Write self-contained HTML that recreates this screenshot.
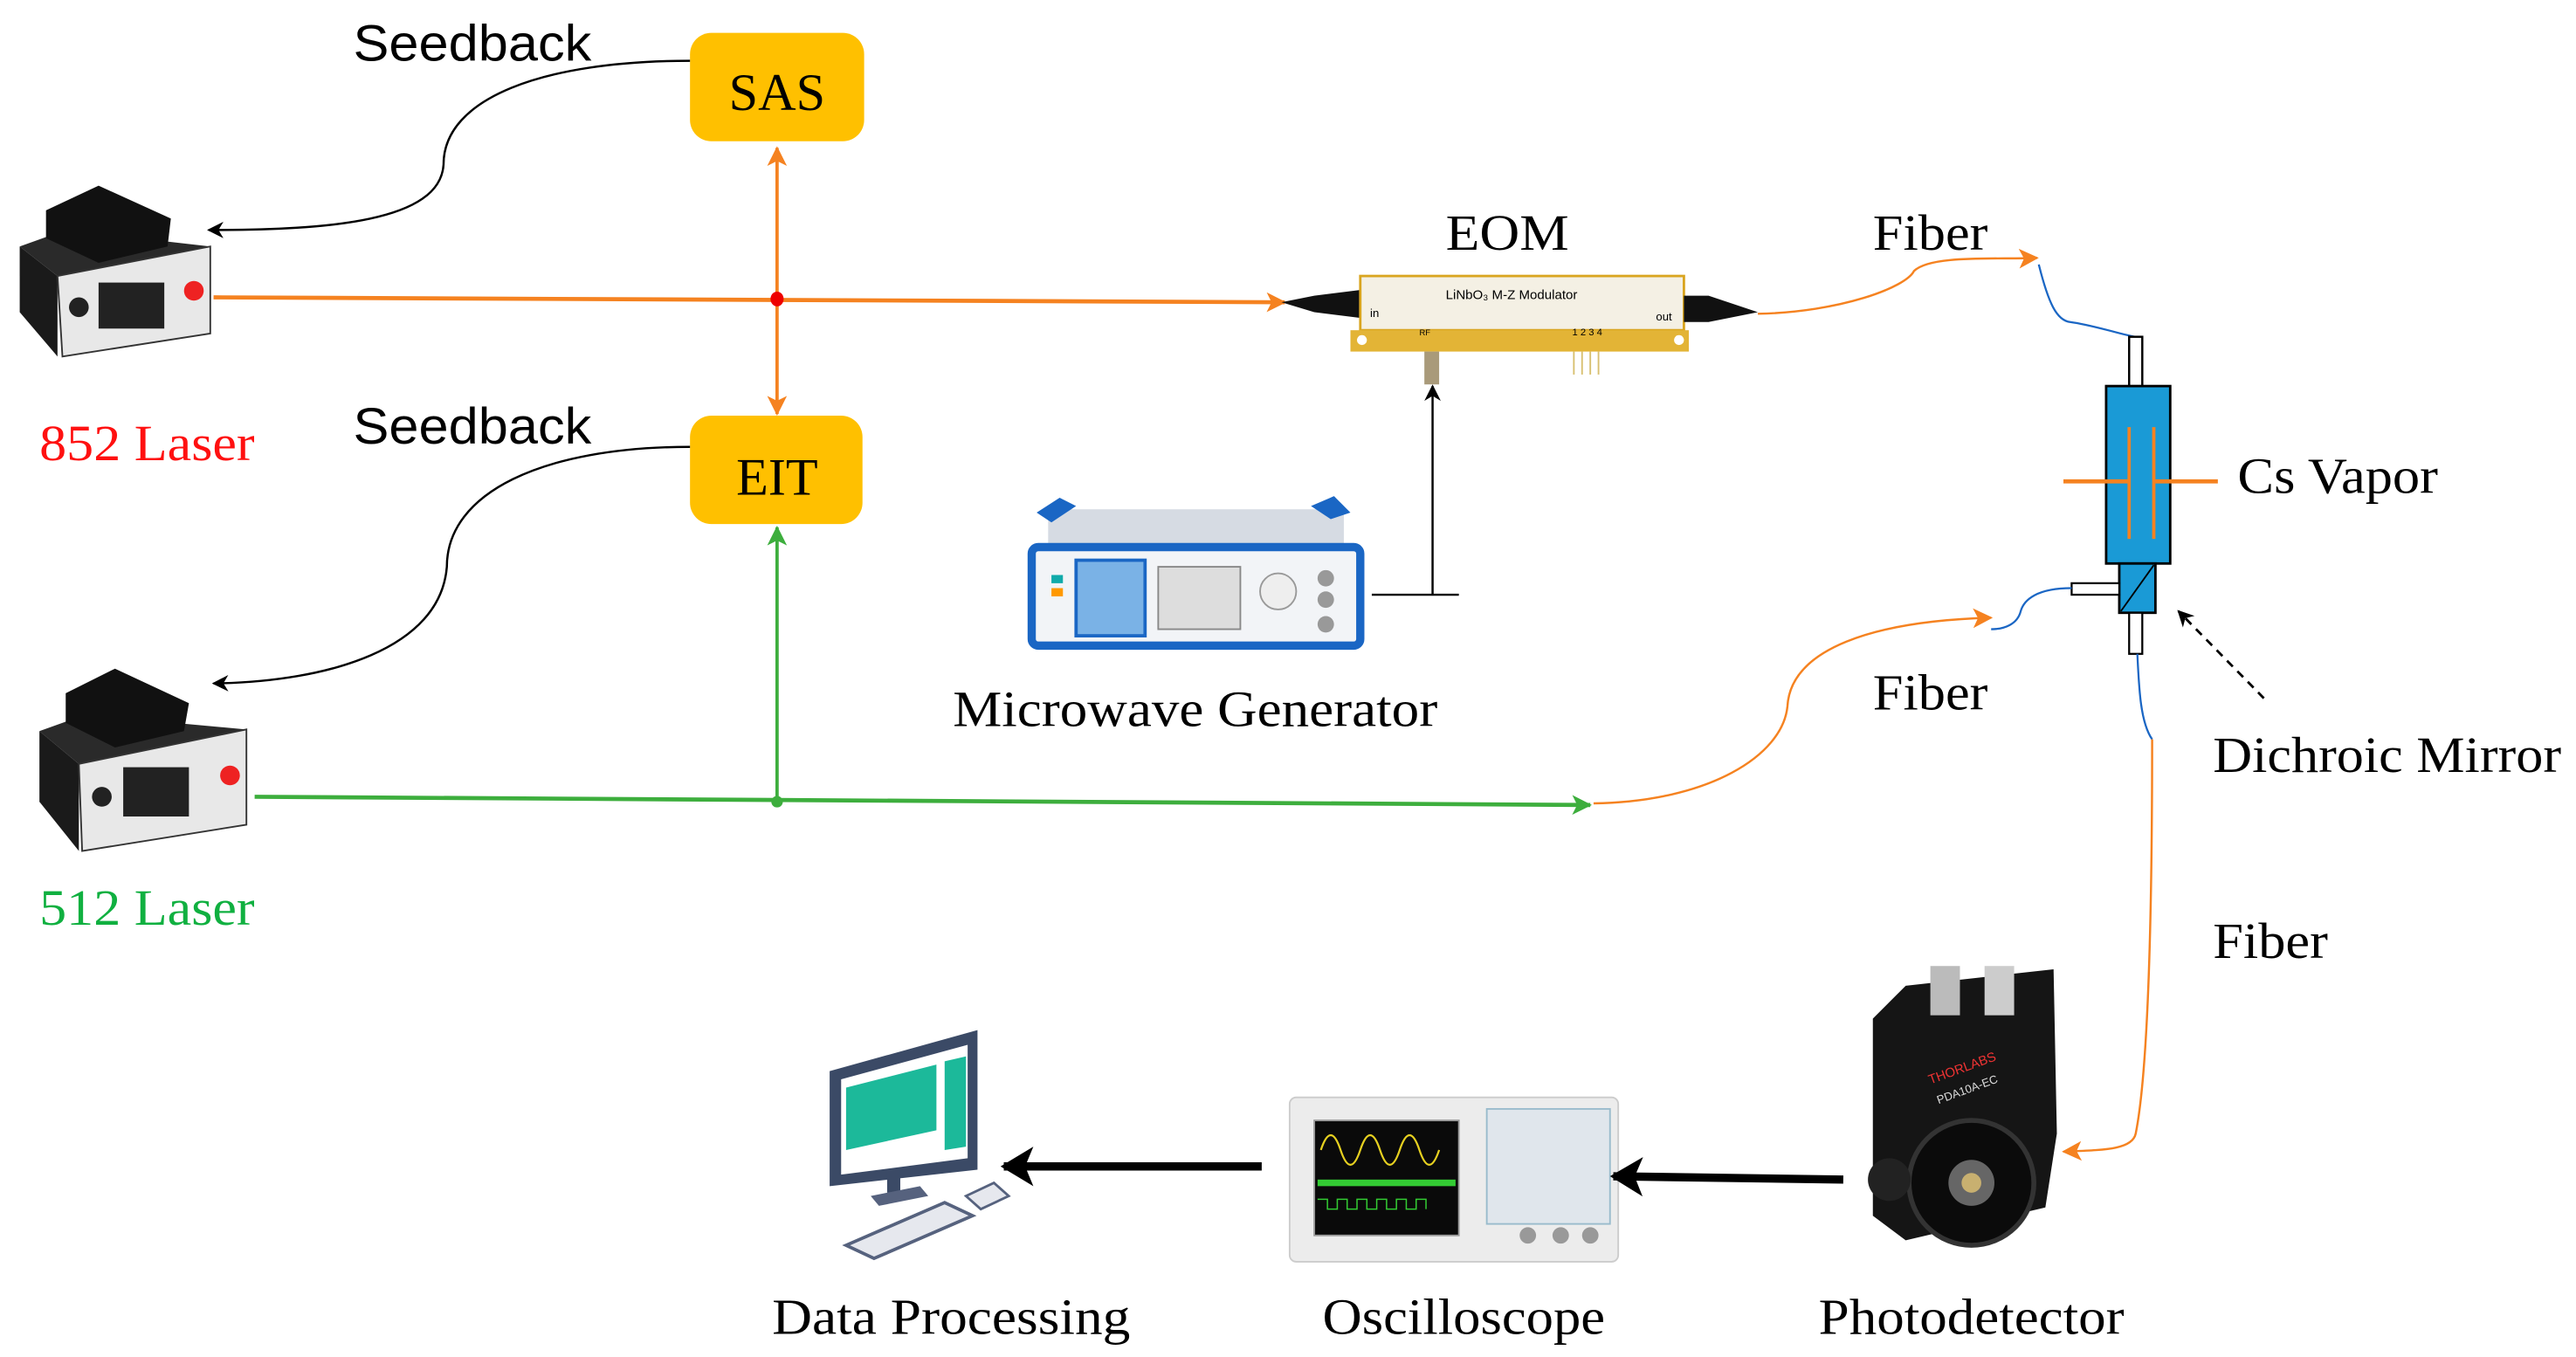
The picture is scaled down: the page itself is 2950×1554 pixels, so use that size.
<!DOCTYPE html>
<html><head><meta charset="utf-8"><style>html,body{margin:0;padding:0;background:#fff;overflow:hidden}svg{display:block}</style></head>
<body>
<svg width="2950" height="1554" viewBox="0 0 1568 826" preserveAspectRatio="none" xmlns="http://www.w3.org/2000/svg">
<defs>
<marker id="ab" markerWidth="10" markerHeight="10" refX="9" refY="5" orient="auto" markerUnits="userSpaceOnUse"><path d="M0,0 L10,5 L0,10 L3,5 Z" fill="#000"/></marker>
<marker id="ao" markerWidth="12" markerHeight="12" refX="11" refY="6" orient="auto" markerUnits="userSpaceOnUse"><path d="M0,0 L12,6 L0,12 L3,6 Z" fill="#F58220"/></marker>
<marker id="ag" markerWidth="12" markerHeight="12" refX="11" refY="6" orient="auto" markerUnits="userSpaceOnUse"><path d="M0,0 L12,6 L0,12 L3,6 Z" fill="#3DAE3D"/></marker>
<marker id="abig" markerWidth="20" markerHeight="24" refX="18" refY="12" orient="auto" markerUnits="userSpaceOnUse"><path d="M0,0 L20,12 L0,24 L5,12 Z" fill="#000"/></marker>
</defs>

<g font-family="Liberation Sans, sans-serif" font-size="31" fill="#000">
<text x="215" y="37" textLength="145" lengthAdjust="spacingAndGlyphs">Seedback</text>
<text x="215" y="270" textLength="145" lengthAdjust="spacingAndGlyphs">Seedback</text>
</g>
<g font-family="Liberation Serif, serif" font-size="31" fill="#000">
<text x="880" y="152" textLength="75" lengthAdjust="spacingAndGlyphs">EOM</text>
<text x="1140" y="152" textLength="70" lengthAdjust="spacingAndGlyphs">Fiber</text>
<text x="1140" y="432" textLength="70" lengthAdjust="spacingAndGlyphs">Fiber</text>
<text x="1347" y="583" textLength="70" lengthAdjust="spacingAndGlyphs">Fiber</text>
<text x="1362" y="300" textLength="122" lengthAdjust="spacingAndGlyphs">Cs Vapor</text>
<text x="1347" y="470" textLength="212" lengthAdjust="spacingAndGlyphs">Dichroic Mirror</text>
<text x="580" y="442" textLength="295" lengthAdjust="spacingAndGlyphs">Microwave Generator</text>
<text x="470" y="812" textLength="218" lengthAdjust="spacingAndGlyphs">Data Processing</text>
<text x="805" y="812" textLength="172" lengthAdjust="spacingAndGlyphs">Oscilloscope</text>
<text x="1107" y="812" textLength="186" lengthAdjust="spacingAndGlyphs">Photodetector</text>
<text x="24" y="280" fill="#FF1010" textLength="131" lengthAdjust="spacingAndGlyphs">852 Laser</text>
<text x="24" y="563" fill="#10B040" textLength="131" lengthAdjust="spacingAndGlyphs">512 Laser</text>
</g>

<rect x="420" y="20" width="106" height="66" rx="13" fill="#FFC000"/>
<text x="473" y="67" font-family="Liberation Serif, serif" font-size="32" text-anchor="middle">SAS</text>
<rect x="420" y="253" width="105" height="66" rx="13" fill="#FFC000"/>
<text x="473" y="301" font-family="Liberation Serif, serif" font-size="32" text-anchor="middle">EIT</text>

<path d="M420,37 C330,37 270,60 270,100 C268,135 200,140 127,140" fill="none" stroke="#000" stroke-width="1.3" marker-end="url(#ab)"/>
<path d="M420,272 C330,272 272,300 272,345 C268,395 200,415 130,416" fill="none" stroke="#000" stroke-width="1.3" marker-end="url(#ab)"/>

<line x1="130" y1="181" x2="782" y2="184" stroke="#F58220" stroke-width="2.5" marker-end="url(#ao)"/>
<line x1="473" y1="182" x2="473" y2="90" stroke="#F58220" stroke-width="2" marker-end="url(#ao)"/>
<line x1="473" y1="182" x2="473" y2="252" stroke="#F58220" stroke-width="2" marker-end="url(#ao)"/>
<ellipse cx="473" cy="182" rx="4" ry="4.5" fill="#E00"/>

<line x1="155" y1="485" x2="968" y2="490" stroke="#3DAE3D" stroke-width="2.5" marker-end="url(#ag)"/>
<line x1="473" y1="488" x2="473" y2="321" stroke="#3DAE3D" stroke-width="2" marker-end="url(#ag)"/>
<circle cx="473" cy="488" r="3.5" fill="#3DAE3D"/>

<path d="M780,184 L800,180 L832,176 L832,194 L800,190 Z" fill="#111"/>
<rect x="828" y="168" width="197" height="33" fill="#F4F0E4" stroke="#D9A520" stroke-width="1.5"/>
<rect x="822" y="201" width="206" height="13" fill="#E3B436"/>
<circle cx="829" cy="207" r="3" fill="#fff"/><circle cx="1022" cy="207" r="3" fill="#fff"/>
<path d="M1025,180 L1040,180 L1070,190 L1040,196 L1025,196 Z" fill="#111"/>
<text x="880" y="182" font-family="Liberation Sans, sans-serif" font-size="8">LiNbO₃ M-Z  Modulator</text>
<text x="834" y="193" font-family="Liberation Sans, sans-serif" font-size="7">in</text>
<text x="1008" y="195" font-family="Liberation Sans, sans-serif" font-size="7">out</text>
<text x="864" y="204" font-family="Liberation Sans, sans-serif" font-size="5">RF</text>
<text x="957" y="204" font-family="Liberation Sans, sans-serif" font-size="6">1 2 3 4</text>
<rect x="867" y="214" width="9" height="20" fill="#A99A7A"/>
<g stroke="#D8C070" stroke-width="1"><line x1="958" y1="214" x2="958" y2="228"/><line x1="963" y1="214" x2="963" y2="228"/><line x1="968" y1="214" x2="968" y2="228"/><line x1="973" y1="214" x2="973" y2="228"/></g>

<rect x="638" y="310" width="180" height="25" fill="#D6DBE3"/>
<rect x="628" y="333" width="200" height="60" rx="4" fill="#F2F4F7" stroke="#1A66C4" stroke-width="5"/>
<rect x="655" y="341" width="42" height="46" fill="#7AB2E6" stroke="#1A66C4" stroke-width="2"/>
<rect x="705" y="345" width="50" height="38" fill="#ddd" stroke="#888"/>
<circle cx="778" cy="360" r="11" fill="#eee" stroke="#999"/>
<circle cx="807" cy="352" r="5" fill="#999"/><circle cx="807" cy="365" r="5" fill="#999"/><circle cx="807" cy="380" r="5" fill="#999"/>
<rect x="640" y="350" width="7" height="5" fill="#1AA"/><rect x="640" y="358" width="7" height="5" fill="#F90"/>
<path d="M631,312 L645,303 L655,308 L640,318 Z" fill="#1A66C4"/>
<path d="M798,308 L812,302 L822,312 L810,316 Z" fill="#1A66C4"/>
<line x1="835" y1="362" x2="888" y2="362" stroke="#000" stroke-width="1.3"/>
<line x1="872" y1="362" x2="872" y2="235" stroke="#000" stroke-width="1.3" marker-end="url(#ab)"/>

<path d="M1070,191 C1120,190 1160,175 1165,165 C1175,155 1215,158 1240,157" fill="none" stroke="#F58220" stroke-width="1.3" marker-end="url(#ao)"/>
<path d="M1241,161 C1247,185 1252,195 1260,196 C1275,198 1296,205 1300,205" fill="none" stroke="#1A66C4" stroke-width="1.2"/>

<rect x="1296" y="205" width="8" height="30" fill="#fff" stroke="#000" stroke-width="1.3"/>
<rect x="1282" y="235" width="39" height="108" fill="#1A9AD6" stroke="#000" stroke-width="1.5"/>
<line x1="1296" y1="260" x2="1296" y2="328" stroke="#F58220" stroke-width="2"/>
<line x1="1311" y1="260" x2="1311" y2="328" stroke="#F58220" stroke-width="2"/>
<line x1="1256" y1="293" x2="1296" y2="293" stroke="#F58220" stroke-width="2.5"/>
<line x1="1311" y1="293" x2="1350" y2="293" stroke="#F58220" stroke-width="2.5"/>
<rect x="1290" y="343" width="22" height="30" fill="#1A9AD6" stroke="#000" stroke-width="1.5"/>
<line x1="1291" y1="372" x2="1311" y2="344" stroke="#000" stroke-width="1"/>
<rect x="1261" y="355" width="29" height="7" fill="#fff" stroke="#000" stroke-width="1.2"/>
<rect x="1296" y="373" width="8" height="25" fill="#fff" stroke="#000" stroke-width="1.2"/>
<line x1="1378" y1="425" x2="1326" y2="372" stroke="#000" stroke-width="1.5" stroke-dasharray="5,4" marker-end="url(#ab)"/>

<path d="M1261,358 C1240,358 1232,365 1230,372 C1228,380 1220,383 1212,383" fill="none" stroke="#1A66C4" stroke-width="1.2"/>
<path d="M970,489 C1040,488 1085,460 1088,430 C1090,395 1140,378 1212,376" fill="none" stroke="#F58220" stroke-width="1.3" marker-end="url(#ao)"/>
<path d="M1301,398 C1302,420 1303,440 1310,450" fill="none" stroke="#1A66C4" stroke-width="1.2"/>
<path d="M1310,450 C1310,550 1308,650 1300,690 C1298,700 1280,700 1256,701" fill="none" stroke="#F58220" stroke-width="1.3" marker-end="url(#ao)"/>

<g>
<path d="M12,150 L12,190 L35,217 L35,168 Z" fill="#1A1A1A"/>
<path d="M12,150 L40,140 L128,150 L35,168 Z" fill="#2A2A2A"/>
<path d="M35,168 L128,150 L128,203 L38,217 Z" fill="#E8E8E8" stroke="#333"/>
<rect x="60" y="172" width="40" height="28" fill="#222"/>
<circle cx="118" cy="177" r="6" fill="#E22"/>
<circle cx="48" cy="187" r="6" fill="#222"/>
<path d="M28,128 L60,113 L104,133 L102,150 L60,160 L28,145 Z" fill="#111"/>
</g>
<g>
<path d="M24,445 L24,488 L48,518 L48,465 Z" fill="#1A1A1A"/>
<path d="M24,445 L52,435 L150,444 L48,465 Z" fill="#2A2A2A"/>
<path d="M48,465 L150,444 L150,502 L50,518 Z" fill="#E8E8E8" stroke="#333"/>
<rect x="75" y="467" width="40" height="30" fill="#222"/>
<circle cx="140" cy="472" r="6" fill="#E22"/>
<circle cx="62" cy="485" r="6" fill="#222"/>
<path d="M40,422 L70,407 L115,428 L112,445 L70,455 L40,440 Z" fill="#111"/>
</g>

<path d="M1140,620 L1160,600 L1250,590 L1252,690 L1245,735 L1160,755 L1140,740 Z" fill="#151515"/>
<rect x="1175" y="588" width="18" height="30" fill="#BBB"/><rect x="1208" y="588" width="18" height="30" fill="#CCC"/>
<circle cx="1200" cy="720" r="38" fill="#0B0B0B" stroke="#333" stroke-width="3"/>
<circle cx="1200" cy="720" r="14" fill="#666"/><circle cx="1200" cy="720" r="6" fill="#C8B070"/>
<circle cx="1150" cy="718" r="13" fill="#222"/>
<text x="1175" y="660" font-family="Liberation Sans, sans-serif" font-size="8" fill="#E33" transform="rotate(-20 1175 660)">THORLABS</text>
<text x="1180" y="672" font-family="Liberation Sans, sans-serif" font-size="7" fill="#ddd" transform="rotate(-20 1180 672)">PDA10A-EC</text>

<rect x="785" y="668" width="200" height="100" rx="4" fill="#ECECEC" stroke="#ccc"/>
<rect x="800" y="682" width="88" height="70" fill="#0A0A0A" stroke="#999"/>
<path d="M804,700 Q810,682 816,700 T828,700 T840,700 T852,700 T864,700 T876,700" fill="none" stroke="#E6D020" stroke-width="1.2"/>
<rect x="802" y="718" width="84" height="4" fill="#3C3"/>
<path d="M802,730 h6 v6 h6 v-6 h6 v6 h6 v-6 h6 v6 h6 v-6 h6 v6 h6 v-6 h6 v6 h6 v-6 h6 v6" fill="none" stroke="#3C3" stroke-width="0.8"/>
<rect x="905" y="675" width="75" height="70" fill="#E0E6EC" stroke="#9BC"/>
<circle cx="930" cy="752" r="5" fill="#999"/><circle cx="950" cy="752" r="5" fill="#999"/><circle cx="968" cy="752" r="5" fill="#999"/>

<path d="M505,652 L595,627 L595,712 L505,722 Z" fill="#3B4A66"/>
<path d="M512,657 L589,636 L589,705 L512,715 Z" fill="#fff"/>
<path d="M515,662 L570,648 L570,688 L515,700 Z" fill="#1CB99A"/>
<path d="M575,646 L588,643 L588,698 L575,700 Z" fill="#1CB99A"/>
<rect x="540" y="712" width="8" height="14" fill="#3B4A66"/>
<path d="M530,728 L560,722 L565,728 L535,734 Z" fill="#56627E"/>
<path d="M515,758 L575,732 L592,740 L532,766 Z" fill="#E6E8EE" stroke="#56627E" stroke-width="2"/>
<path d="M588,728 L605,720 L614,728 L597,736 Z" fill="#E6E8EE" stroke="#56627E" stroke-width="1.5"/>

<line x1="1122" y1="718" x2="982" y2="716" stroke="#000" stroke-width="5" marker-end="url(#abig)"/>
<line x1="768" y1="710" x2="611" y2="710" stroke="#000" stroke-width="5" marker-end="url(#abig)"/>
</svg>
</body></html>
